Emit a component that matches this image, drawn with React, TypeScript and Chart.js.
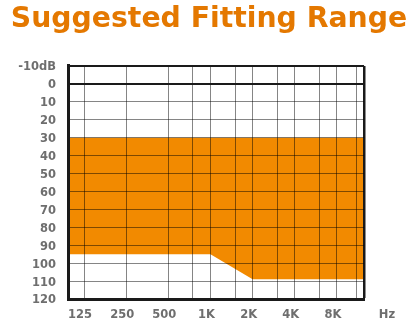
import React, { useEffect, useRef } from "react";
import { Chart, registerables } from "chart.js";

Chart.register(...registerables);

// ---- data ----
const TITLE = "Suggested Fitting Range";
const xMin = 96;
const xMax = 12500;
const gridFreqs = [125, 250, 500, 750, 1000, 1500, 2000, 3000, 4000, 6000, 8000, 11000, 12500];
const freqLabels: Record<number, string> = {
  125: "125",
  250: "250",
  500: "500",
  1000: "1K",
  2000: "2K",
  4000: "4K",
  8000: "8K",
};
const unitLabel = "Hz";
const dbTicks = [-10, 0, 10, 20, 30, 40, 50, 60, 70, 80, 90, 100, 110, 120];
const boundFreqs = [xMin, 1000, 2000, xMax];
const lowerDb = [95, 95, 109, 109];
const upperDb = [30, 30, 30, 30];

const ORANGE = "#F28A00";
const TITLE_COLOR = "#E47800";
const LABEL_COLOR = "#6e6e6e";
const FONT = "'DejaVu Sans', Verdana, sans-serif";

export default function App() {
  const ref = useRef<HTMLCanvasElement | null>(null);

  useEffect(() => {
    document.body.style.margin = "0";
    const canvas = ref.current;
    if (!canvas) return;

    const hzPlugin = {
      id: "hzLabel",
      afterDraw(chart: any) {
        const { ctx, chartArea } = chart;
        ctx.save();
        ctx.font = `bold 11.5px ${FONT}`;
        ctx.fillStyle = LABEL_COLOR;
        ctx.textAlign = "center";
        ctx.textBaseline = "middle";
        ctx.fillText(unitLabel, chartArea.right + 23, chartArea.bottom + 16);
        ctx.restore();
      },
    };

    const chart = new Chart(canvas, {
      type: "line",
      data: {
        datasets: [
          {
            data: boundFreqs.map((f, i) => ({ x: f, y: lowerDb[i] })),
            borderWidth: 0,
            pointRadius: 0,
            fill: false,
          },
          {
            data: boundFreqs.map((f, i) => ({ x: f, y: upperDb[i] })),
            borderWidth: 0,
            pointRadius: 0,
            backgroundColor: ORANGE,
            fill: "-1",
          },
        ],
      },
      options: {
        responsive: false,
        animation: false,
        layout: { padding: { left: 0, right: 0, top: 0, bottom: 0 } },
        plugins: {
          legend: { display: false },
          tooltip: { enabled: false },
          title: {
            display: true,
            text: TITLE,
            color: TITLE_COLOR,
            font: { family: FONT, size: 28.3, weight: "bold" },
            padding: { top: 3, bottom: 29 },
          },
        },
        scales: {
          x: {
            type: "logarithmic",
            min: xMin,
            max: xMax,
            afterBuildTicks: (axis: any) => {
              axis.ticks = gridFreqs.map((v) => ({ value: v }));
            },
            afterFit: (axis: any) => {
              axis.height = 28;
            },
            ticks: {
              autoSkip: false,
              maxRotation: 0,
              padding: 9,
              labelOffset: -4,
              color: LABEL_COLOR,
              font: { family: FONT, size: 11.5, weight: "bold" },
              callback: (v: any) => freqLabels[Number(v)] ?? "",
            },
            grid: {
              z: 1,
              drawTicks: false,
              color: (c: any) =>
                c.tick && c.tick.value === xMax ? "#1a1a1a" : "rgba(0,0,0,0.48)",
              lineWidth: (c: any) => (c.tick && c.tick.value === xMax ? 2.5 : 1),
            },
            border: { z: 2, color: "#1a1a1a", width: 3 },
          },
          y: {
            type: "linear",
            reverse: true,
            min: -10,
            max: 120,
            afterBuildTicks: (axis: any) => {
              axis.ticks = dbTicks.map((v) => ({ value: v }));
            },
            afterFit: (axis: any) => {
              axis.width = 68;
            },
            ticks: {
              autoSkip: false,
              padding: 12,
              labelOffset: 1.5,
              color: LABEL_COLOR,
              font: { family: FONT, size: 11.5, weight: "bold" },
              callback: (v: any) => (Number(v) === -10 ? "-10dB" : String(v)),
            },
            grid: {
              z: 1,
              drawTicks: false,
              color: (c: any) =>
                c.tick && (c.tick.value === 0 || c.tick.value === -10)
                  ? "#1a1a1a"
                  : c.tick && c.tick.value === 120
                  ? "rgba(0,0,0,0)"
                  : "rgba(0,0,0,0.48)",
              lineWidth: (c: any) =>
                c.tick && (c.tick.value === 0 || c.tick.value === -10) ? 2 : 1,
            },
            border: { z: 2, color: "#1a1a1a", width: 3 },
          },
          // empty right-hand spacer so the plot ends where the reference's does
          spacer: {
            type: "linear",
            position: "right",
            display: true,
            afterFit: (axis: any) => {
              axis.width = 54;
            },
            ticks: { display: false },
            grid: { display: false, drawTicks: false },
            border: { display: false },
          },
        },
      },
      plugins: [hzPlugin],
    } as any);

    return () => chart.destroy();
  }, []);

  return <canvas ref={ref} width={418} height={327} style={{ display: "block" }} />;
}
